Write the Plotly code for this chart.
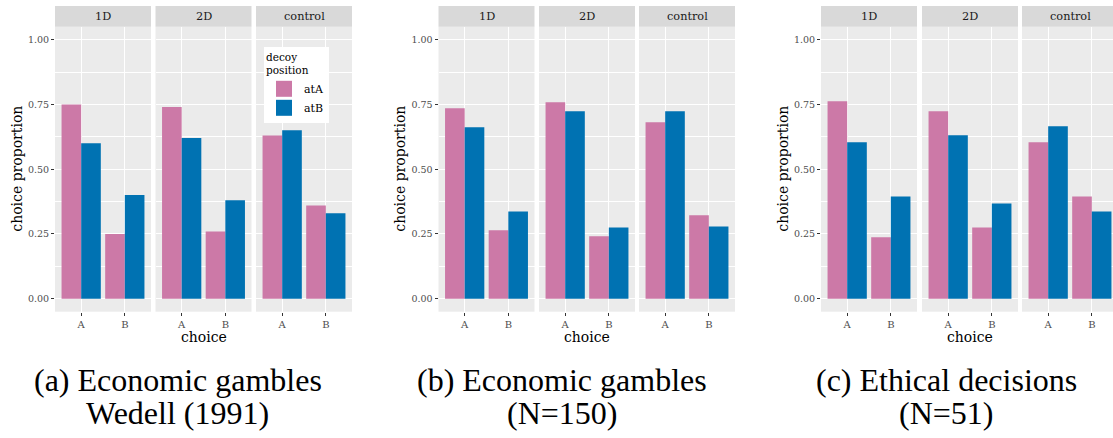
import plotly.graph_objects as go

W, H = 1113, 438

choices = ["A", "B"]
facets = ["1D", "2D", "control"]
series = ["atA", "atB"]
colors = {"atA": "#CC79A7", "atB": "#0072B2"}

# values per panel, facet -> [A, B]
panel_a_atA = {"1D": [0.75, 0.25], "2D": [0.74, 0.26], "control": [0.63, 0.36]}
panel_a_atB = {"1D": [0.60, 0.40], "2D": [0.62, 0.38], "control": [0.65, 0.33]}
panel_b_atA = {"1D": [0.735, 0.264], "2D": [0.758, 0.241], "control": [0.681, 0.322]}
panel_b_atB = {"1D": [0.662, 0.337], "2D": [0.724, 0.275], "control": [0.724, 0.279]}
panel_c_atA = {"1D": [0.762, 0.237], "2D": [0.724, 0.275], "control": [0.604, 0.395]}
panel_c_atB = {"1D": [0.604, 0.395], "2D": [0.631, 0.368], "control": [0.666, 0.337]}

panels = [
    {"atA": panel_a_atA, "atB": panel_a_atB},
    {"atA": panel_b_atA, "atB": panel_b_atB},
    {"atA": panel_c_atA, "atB": panel_c_atB},
]
captions = [
    ["(a) Economic gambles", "Wedell (1991)"],
    ["(b) Economic gambles", "(N=150)"],
    ["(c) Ethical decisions", "(N=51)"],
]
ytick_vals = [0, 0.25, 0.5, 0.75, 1.0]
ytick_text = ["0.00", "0.25", "0.50", "0.75", "1.00"]
yminor_vals = [0.125, 0.375, 0.625, 0.875]

# layout geometry (pixels)
facet_left = [[55, 155.5, 256], [438.5, 539, 639], [821, 922, 1022]]
FW = 96.0
plot_top, plot_bot = 26.7, 311.7
strip_top = 6.0
XR = [-0.6, 1.6]

SERIF = "DejaVu Serif, Liberation Serif, serif"
CAPFONT = "Liberation Serif, serif"
fig = go.Figure()
layout = {}
shapes = []
annotations = []

def px2x(p):
    return p / W

def px2y(p):
    return 1 - p / H

k = 0
for pi, pdata in enumerate(panels):
    for fi, fac in enumerate(facets):
        k += 1
        xa = "x" if k == 1 else f"x{k}"
        ya = "y" if k == 1 else f"y{k}"
        xl = facet_left[pi][fi]
        xr = xl + FW
        xrange = list(XR)
        if xr > W:
            xrange = [XR[0], XR[0] + (W - xl) / FW * (XR[1] - XR[0])]
            xr = W
        for s in series:
            fig.add_trace(go.Bar(
                x=choices, y=pdata[s][fac], name=s,
                marker=dict(color=colors[s], line=dict(width=0)),
                xaxis=xa, yaxis=ya, showlegend=False, offsetgroup=s,
                hoverinfo="x+y+name",
            ))
        axkey = "xaxis" if k == 1 else f"xaxis{k}"
        aykey = "yaxis" if k == 1 else f"yaxis{k}"
        layout[axkey] = dict(
            domain=[px2x(xl), px2x(xr)], anchor=ya, type="category",
            range=xrange, showgrid=True, gridcolor="white", gridwidth=1.1,
            ticks="outside", ticklen=3, tickcolor="#333333", tickwidth=1,
            tickfont=dict(family=SERIF, size=10, color="#4D4D4D"),
            zeroline=False, showline=False, fixedrange=True,
        )
        layout[aykey] = dict(
            domain=[px2y(plot_bot), px2y(plot_top)], anchor=xa,
            range=[-0.05, 1.05], tickvals=ytick_vals, ticktext=ytick_text,
            showticklabels=(fi == 0), ticks="outside" if fi == 0 else "",
            ticklen=3, tickcolor="#333333", tickwidth=1,
            tickfont=dict(family=SERIF, size=9.5, color="#4D4D4D"),
            showgrid=True, gridcolor="white", gridwidth=1.1,
            minor=dict(tickvals=yminor_vals, showgrid=True, gridcolor="white", gridwidth=0.55, ticks=""),
            zeroline=False, showline=False, fixedrange=True,
        )
        # strip
        shapes.append(dict(type="rect", xref="paper", yref="paper",
                           x0=px2x(xl), x1=px2x(xr), y0=px2y(plot_top), y1=px2y(strip_top),
                           fillcolor="#D9D9D9", line=dict(width=0), layer="below"))
        annotations.append(dict(text=fac, xref="paper", yref="paper",
                                x=px2x(xl + FW / 2), y=px2y((strip_top + plot_top) / 2),
                                xanchor="center", yanchor="middle", showarrow=False,
                                font=dict(family=SERIF, size=11.3, color="#1A1A1A")))
    # axis titles
    pl = facet_left[pi][0]
    pr = facet_left[pi][2] + FW
    annotations.append(dict(text="choice", xref="paper", yref="paper",
                            x=px2x((pl + pr) / 2), y=px2y(337), xanchor="center", yanchor="middle",
                            showarrow=False, font=dict(family=SERIF, size=14, color="black")))
    ytx = [17.5, 400.5, 783.5][pi]
    annotations.append(dict(text="choice proportion", xref="paper", yref="paper",
                            x=px2x(ytx), y=px2y((plot_top + plot_bot) / 2), xanchor="center",
                            yanchor="middle", textangle=-90, showarrow=False,
                            font=dict(family=SERIF, size=14, color="black")))
    # captions
    cx = [177.5, 562, 946][pi]
    for li, line in enumerate(captions[pi]):
        annotations.append(dict(text=line, xref="paper", yref="paper",
                                x=px2x(cx), y=px2y([380, 413][li]), xanchor="center",
                                yanchor="middle", showarrow=False,
                                font=dict(family=CAPFONT, size=32, color="black")))

# legend entries (dummy traces with square keys)
for s in series:
    fig.add_trace(go.Scatter(x=[None], y=[None], mode="markers", name=s,
                             marker=dict(symbol="square", size=16, color=colors[s]),
                             xaxis="x", yaxis="y", showlegend=True))

fig.update_layout(
    width=W, height=H, margin=dict(l=0, r=0, t=0, b=0),
    paper_bgcolor="white", plot_bgcolor="#EBEBEB",
    barmode="group", bargap=0.1, bargroupgap=0,
    shapes=shapes, annotations=annotations,
    showlegend=True,
    legend=dict(x=px2x(264), y=px2y(47), xanchor="left", yanchor="top",
                bgcolor="white", borderwidth=0,
                title=dict(text="decoy<br>position", font=dict(family=SERIF, size=10.5, color="black")),
                font=dict(family=SERIF, size=11, color="black"),
                itemsizing="trace", itemwidth=30, tracegroupgap=0),
    **layout,
)

fig.write_html("out.html")
